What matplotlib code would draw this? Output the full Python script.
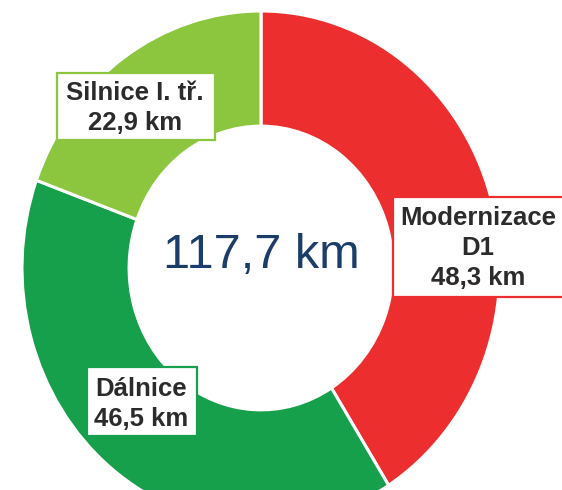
import numpy as np
import matplotlib.pyplot as plt
from matplotlib.patches import Rectangle

# data
labels = ['Modernizace\nD1', 'Dálnice', 'Silnice I. tř.']
values = [48.3, 46.5, 22.9]
colors = ['#ED2E2F', '#17A04C', '#8CC63F']
total_text = '117,7 km'

W, H = 562, 490
fig = plt.figure(figsize=(W / 100, H / 100), dpi=100)
ax = fig.add_axes([0, 0, 1, 1])

ax.pie(values, colors=colors, startangle=90, counterclock=False, radius=1.0,
       wedgeprops=dict(width=0.448, edgecolor='white', linewidth=2.2))

# picture is slightly stretched vertically: center (261, 268), rx 239, ry 257 px
cx, cy, rx, ry = 261, 268, 239, 257
ax.set_aspect('auto')
ax.set_xlim(-cx / rx, (W - cx) / rx)
ax.set_ylim(-(H - cy) / ry, cy / ry)
ax.axis('off')

def px(x, y):
    return x / W, 1 - y / H

font = 'Liberation Sans'
txt_col = '#2B2B2B'

ax.text(*px(261, 255), total_text, transform=fig.transFigure, ha='center',
        va='center', fontsize=35, color='#1B3D6A', family=font)

# label boxes: (left, top, right, bottom) in pixels, text center
boxes = [
    ((393, 197, 566, 297), (478, 248)),
    ((87, 367, 197, 436), (141, 404)),
    ((57, 73, 215, 140), (135, 108)),
]
for i, ((l, t, r, b), (tx, ty)) in enumerate(boxes):
    x0, y0 = px(l, b)
    x1, y1 = px(r, t)
    fig.add_artist(Rectangle((x0, y0), x1 - x0, y1 - y0, transform=fig.transFigure,
                             facecolor='white', edgecolor=colors[i], linewidth=1.6))
    val = f'{values[i]:.1f}'.replace('.', ',') + ' km'
    fig.text(*px(tx, ty), labels[i] + '\n' + val, ha='center', va='center',
             fontsize=18.5, fontweight='bold', color=txt_col, family=font,
             linespacing=1.3)

fig.savefig('out.png', dpi=100)
